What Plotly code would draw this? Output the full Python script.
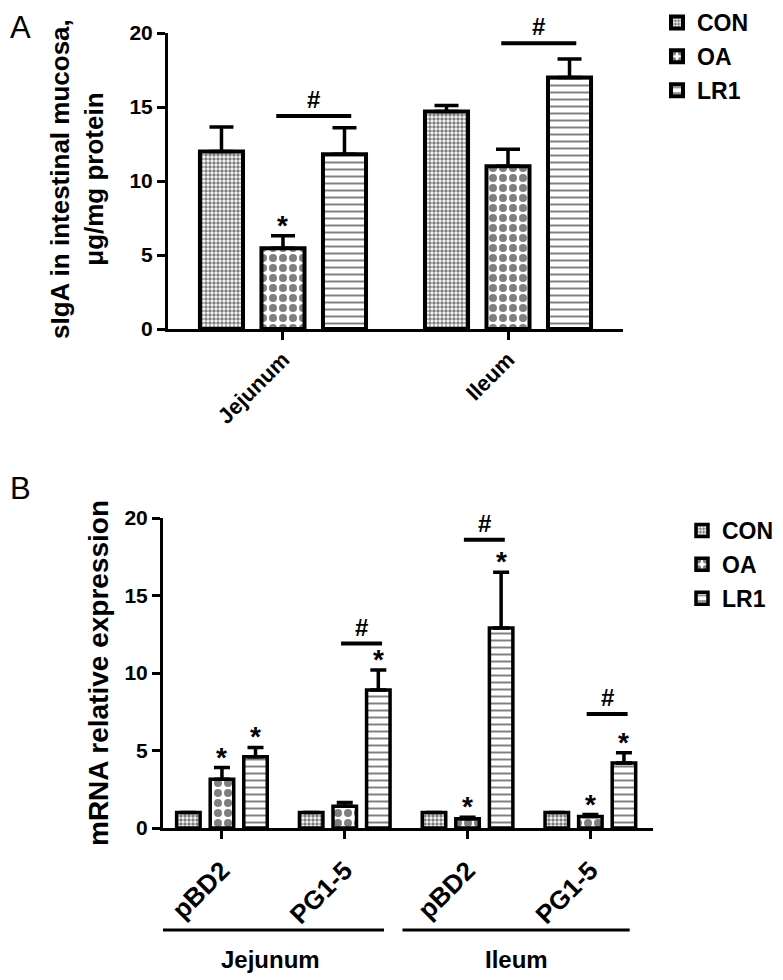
import plotly.graph_objects as go

# ---------------- data ----------------
groups = ["CON", "OA", "LR1"]

# Panel A: sIgA
regions_a = ["Jejunum", "Ileum"]
siga_mean = {"CON": [12.0, 14.7], "OA": [5.45, 11.0], "LR1": [11.8, 17.0]}
siga_err = {"CON": [1.65, 0.4], "OA": [0.85, 1.15], "LR1": [1.8, 1.25]}
stars_a = [("OA", 0)]
hash_a = [(0, 14.4), (1, 19.3)]          # (region index, y of bracket)

# Panel B: mRNA
genes_b = ["pBD2", "PG1-5", "pBD2", "PG1-5"]
segments_b = ["Jejunum", "Jejunum", "Ileum", "Ileum"]
mrna_mean = {"CON": [1.0, 1.0, 1.0, 1.0], "OA": [3.15, 1.4, 0.6, 0.75],
             "LR1": [4.6, 8.9, 12.9, 4.2]}
mrna_err = {"CON": [0, 0, 0, 0], "OA": [0.75, 0.25, 0.1, 0.12],
            "LR1": [0.6, 1.3, 3.6, 0.65]}
stars_b = [("OA", 0), ("LR1", 0), ("LR1", 1), ("OA", 2), ("LR1", 2), ("OA", 3), ("LR1", 3)]
hash_b = [(1, 11.9), (2, 18.6), (3, 7.35)]

# ---------------- style ----------------
FONT = "Liberation Sans, Arial, sans-serif"
PAGE_OFF = 8                     # default page margin around the figure
W, H = 783 - PAGE_OFF, 980 - PAGE_OFF
BARGAP = 0.18
BARGROUPGAP = 0.3
patterns = {
    "CON": dict(shape=".", size=4, solidity=0.6, fgcolor="black", bgcolor="white"),
    "OA": dict(shape=".", size=10, solidity=0.5, fgcolor="black", bgcolor="white"),
    "LR1": dict(shape="-", size=7, solidity=0.28, fgcolor="black", bgcolor="white"),
}


def px_x(px):
    return (px - PAGE_OFF) / W


def px_y(py):
    return 1 - (py - PAGE_OFF) / H


def offset(name):
    k = groups.index(name)
    return (k - 1) * (1 - BARGAP) / len(groups)


fig = go.Figure()

for g in groups:
    fig.add_trace(go.Bar(
        x=list(range(len(regions_a))), y=siga_mean[g], name=g,
        marker=dict(color="white", line=dict(color="black", width=4), pattern=patterns[g]),
        error_y=dict(type="data", symmetric=False, array=siga_err[g],
                     arrayminus=[0] * len(regions_a), color="black", thickness=3.5, width=12),
        xaxis="x", yaxis="y", legend="legend", legendgroup="A" + g,
    ))
for g in groups:
    fig.add_trace(go.Bar(
        x=list(range(len(genes_b))), y=mrna_mean[g], name=g,
        marker=dict(color="white", line=dict(color="black", width=3.5), pattern=patterns[g]),
        error_y=dict(type="data", symmetric=False, array=mrna_err[g],
                     arrayminus=[0] * len(genes_b), color="black", thickness=3.5, width=8),
        xaxis="x2", yaxis="y2", legend="legend2", legendgroup="B" + g,
    ))

line_common = dict(showline=True, linecolor="black", linewidth=3, ticks="outside",
                   tickwidth=3, ticklen=8, tickcolor="black", showgrid=False, zeroline=False,
                   automargin=False)
ytick_font = dict(family=FONT, size=21, color="black", weight="bold")

fig.update_layout(
    width=W, height=H, margin=dict(l=0, r=0, t=0, b=0, autoexpand=False),
    paper_bgcolor="white", plot_bgcolor="white",
    barmode="group", bargap=BARGAP, bargroupgap=BARGROUPGAP,
    xaxis=dict(domain=[px_x(168), px_x(623)], range=[-0.511, 1.511], anchor="y",
               tickvals=list(range(len(regions_a))), ticktext=regions_a, tickangle=-45,
               ticklabelstandoff=-2,
               tickfont=dict(family=FONT, size=22, color="black", weight="bold"), **line_common),
    yaxis=dict(domain=[px_y(329), px_y(33)], range=[0, 20], anchor="x",
               tickvals=[0, 5, 10, 15, 20], tickfont=ytick_font, **line_common),
    xaxis2=dict(domain=[px_x(163), px_x(653)], range=[-0.48, 3.51], anchor="y2",
                tickvals=list(range(len(genes_b))), ticktext=genes_b, tickangle=-45,
                ticklabelstandoff=6,
                tickfont=dict(family=FONT, size=26, color="black", weight="bold"), **line_common),
    yaxis2=dict(domain=[px_y(828), px_y(518)], range=[0, 20], anchor="x2",
                tickvals=[0, 5, 10, 15, 20], tickfont=ytick_font, **line_common),
    legend=dict(x=px_x(657), y=px_y(1), xanchor="left", yanchor="top",
                font=dict(family=FONT, size=23, color="black", weight="bold"),
                tracegroupgap=1, bgcolor="rgba(0,0,0,0)"),
    legend2=dict(x=px_x(682), y=px_y(509), xanchor="left", yanchor="top",
                 font=dict(family=FONT, size=23, color="black", weight="bold"),
                 tracegroupgap=1, bgcolor="rgba(0,0,0,0)"),
)

ann = []
shapes = []

# panel letters
ann.append(dict(text="A", x=px_x(PAGE_OFF), y=px_y(PAGE_OFF), xref="paper", yref="paper",
                xanchor="left", yanchor="top", showarrow=False,
                font=dict(family=FONT, size=31, color="black")))
ann.append(dict(text="B", x=px_x(PAGE_OFF), y=px_y(469), xref="paper", yref="paper",
                xanchor="left", yanchor="top", showarrow=False,
                font=dict(family=FONT, size=31, color="black")))

# y titles
ann.append(dict(text="sIgA in intestinal mucosa,<br>μg/mg protein", x=px_x(77), y=px_y(179),
                xref="paper", yref="paper", xanchor="center", yanchor="middle", textangle=-90,
                showarrow=False, font=dict(family=FONT, size=26, color="black", weight="bold")))
ann.append(dict(text="mRNA relative expression", x=px_x(98), y=px_y(673),
                xref="paper", yref="paper", xanchor="center", yanchor="middle", textangle=-90,
                showarrow=False, font=dict(family=FONT, size=28, color="black", weight="bold")))

star_font = dict(family=FONT, size=28, color="black", weight="bold")
hash_font = dict(family=FONT, size=24, color="black", weight="bold")


def add_sig(stars, hashes, mean, err, xr, yr):
    for g, i in stars:
        ann.append(dict(text="*", x=i + offset(g), y=mean[g][i] + err[g][i], xref=xr, yref=yr,
                        xanchor="center", yanchor="bottom", showarrow=False, yshift=-7,
                        font=star_font))
    for i, yv in hashes:
        x0 = i + offset("OA") - 0.03
        x1 = i + offset("LR1") + 0.03
        shapes.append(dict(type="line", x0=x0, x1=x1, y0=yv, y1=yv, xref=xr, yref=yr,
                           line=dict(color="black", width=4)))
        ann.append(dict(text="#", x=(x0 + x1) / 2, y=yv, xref=xr, yref=yr, xanchor="center",
                        yanchor="bottom", showarrow=False, yshift=1, font=hash_font))


add_sig(stars_a, hash_a, siga_mean, siga_err, "x", "y")
add_sig(stars_b, hash_b, mrna_mean, mrna_err, "x2", "y2")

# segment brackets under panel B
seg_names = []
for s in segments_b:
    if s not in seg_names:
        seg_names.append(s)
for s in seg_names:
    idx = [i for i, v in enumerate(segments_b) if v == s]
    x0, x1 = idx[0] - 0.53, idx[-1] + 0.32
    shapes.append(dict(type="line", x0=x0, x1=x1, y0=px_y(930), y1=px_y(930), xref="x2",
                       yref="paper", line=dict(color="black", width=3)))
    ann.append(dict(text=s, x=(x0 + x1) / 2, y=px_y(944), xref="x2", yref="paper",
                    xanchor="center", yanchor="top", showarrow=False,
                    font=dict(family=FONT, size=24, color="black", weight="bold")))

fig.update_layout(annotations=ann, shapes=shapes)
fig.write_html("out.html")
